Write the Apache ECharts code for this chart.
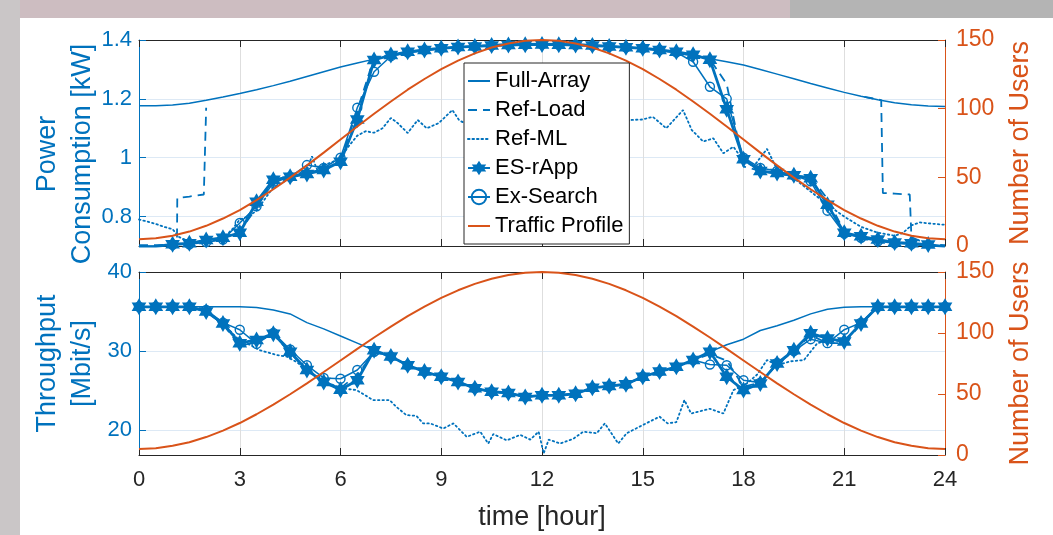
<!DOCTYPE html>
<html><head><meta charset="utf-8">
<script src="https://cdn.jsdelivr.net/npm/echarts@6/dist/echarts.min.js"></script>
<style>html,body{margin:0;padding:0;background:#fff;}#c{width:1053px;height:535px;}</style>
</head><body><div id="c"></div>
<script>
// ---------------- data ----------------
const hours = [0,0.5,1,1.5,2,2.5,3,3.5,4,4.5,5,5.5,6,6.5,7,7.5,8,8.5,9,9.5,10,10.5,11,11.5,12,12.5,13,13.5,14,14.5,15,15.5,16,16.5,17,17.5,18,18.5,19,19.5,20,20.5,21,21.5,22,22.5,23,23.5,24];
const xTicks = [0,3,6,9,12,15,18,21,24];
const powerTicks = [0.8,1,1.2,1.4];
const tputTicks = [20,30,40];
const userTicks = [0,50,100,150];
const legendNames = ['Full-Array','Ref-Load','Ref-ML','ES-rApp','Ex-Search','Traffic Profile'];

const trafficUsers = [5.0,5.6,7.5,10.5,14.7,20.0,26.2,33.4,41.3,49.8,58.7,68.0,77.5,87.0,96.3,105.2,113.8,121.6,128.8,135.0,140.3,144.5,147.5,149.4,150,149.4,147.5,144.5,140.3,135.0,128.8,121.6,113.8,105.2,96.3,87.0,77.5,68.0,58.7,49.8,41.3,33.4,26.2,20.0,14.7,10.5,7.5,5.6,5.0];

// power consumption [kW]
const fullArrayPower = [1.177,1.177,1.179,1.185,1.195,1.206,1.218,1.231,1.245,1.26,1.276,1.292,1.308,1.322,1.335,1.346,1.356,1.364,1.371,1.376,1.38,1.384,1.386,1.387,1.388,1.387,1.386,1.384,1.38,1.376,1.371,1.364,1.356,1.346,1.336,1.326,1.315,1.3,1.284,1.268,1.252,1.237,1.222,1.209,1.197,1.187,1.18,1.176,1.174];
const esPower = [0.698,0.698,0.706,0.709,0.72,0.728,0.745,0.85,0.925,0.935,0.945,0.958,0.986,1.13,1.332,1.349,1.36,1.366,1.372,1.376,1.378,1.381,1.383,1.384,1.385,1.384,1.383,1.381,1.378,1.375,1.372,1.366,1.36,1.35,1.333,1.165,0.995,0.955,0.948,0.94,0.93,0.84,0.745,0.733,0.722,0.712,0.709,0.705,0.698];
const exSearchPower = [0.699,0.699,0.704,0.706,0.713,0.722,0.778,0.835,0.915,0.935,0.975,0.965,1.0,1.17,1.292,1.345,1.358,1.366,1.372,1.376,1.378,1.381,1.383,1.384,1.385,1.384,1.383,1.381,1.378,1.375,1.372,1.366,1.358,1.326,1.241,1.2,1.0,0.965,0.955,0.94,0.92,0.82,0.742,0.728,0.716,0.709,0.706,0.699,0.699];
const refLoadPower = [[0,0.703],[0.5,0.703],[1.13,0.705],[1.14,0.863],[1.5,0.868],[1.93,0.875],[2.0,1.17],[2.25,null],
  [2.5,0.726],[3,0.75],[3.5,0.83],[4,0.93],[4.5,0.936],[5,0.95],[5.5,0.96],[6,0.99],[6.5,1.16],[7,1.34],[7.5,1.35],[8,1.36],[9,1.372],[10,1.378],[11,1.383],[12,1.385],[13,1.383],[14,1.378],[15,1.372],[16,1.36],[16.5,1.35],[17,1.335],[17.5,1.25],[18,0.97],[18.5,0.955],[19,0.945],[19.5,0.938],[20,0.935],[20.5,0.86],[21,0.75],[21.5,0.735],[21.55,null],
  [21.6,1.207],[22.1,1.196],[22.15,0.88],[22.5,0.878],[22.95,0.875],[23.0,0.73],[23.5,0.705],[24,0.703]];
const refMLPower = [[0,0.79],[0.25,0.783],[0.5,0.775],[0.75,0.765],[1,0.757],[1.2,0.73],[1.5,0.715],[2,0.712],[2.5,0.725],[2.8,0.76],[3.0,0.79],[3.25,0.8],[3.5,0.82],[3.75,0.86],[4,0.9],[4.25,0.915],[4.5,0.93],[4.75,0.945],[5,0.96],[5.15,1.005],[5.3,0.96],[5.5,0.975],[5.75,0.985],[6,1.0],[6.25,1.04],[6.5,1.075],[6.75,1.09],[7.0,1.085],[7.25,1.1],[7.5,1.135],[7.7,1.118],[8.0,1.084],[8.3,1.128],[8.57,1.1],[8.93,1.118],[9.33,1.162],[9.53,1.128],[9.8,1.11],[10.2,1.12],[10.6,1.1],[11,1.12],[11.5,1.1],[12,1.115],[12.5,1.1],[13,1.12],[13.5,1.105],[14,1.12],[14.3,1.11],[14.62,1.128],[15.0,1.13],[15.3,1.139],[15.7,1.1],[16.2,1.162],[16.46,1.094],[16.8,1.055],[17.1,1.066],[17.4,1.015],[17.7,1.037],[18.0,0.99],[18.3,0.97],[18.7,1.03],[19.0,0.96],[19.5,0.93],[20,0.885],[20.5,0.84],[21,0.8],[21.5,0.765],[22,0.745],[22.5,0.735],[22.75,0.745],[23,0.77],[23.25,0.78],[23.6,0.776],[24,0.772]];

// throughput [Mbit/s]
const fullArrayTput = [35.6,35.6,35.6,35.6,35.6,35.6,35.6,35.5,35.2,34.7,33.6,32.8,31.9,31.0,30.1,29.3,28.2,27.4,26.75,26.1,25.3,24.85,24.7,24.2,24.4,24.4,24.6,25.35,25.57,25.8,26.75,27.4,28.0,28.86,29.9,30.8,31.5,32.6,33.2,33.9,34.7,35.3,35.55,35.6,35.6,35.6,35.6,35.6,35.6];
const esTput = [35.6,35.6,35.6,35.6,35.0,33.5,31.0,31.4,32.2,29.9,27.6,26.1,25.1,26.3,30.1,29.3,28.2,27.4,26.75,26.1,25.3,24.85,24.7,24.2,24.4,24.4,24.6,25.35,25.57,25.8,26.75,27.4,28.0,28.86,29.9,26.75,25.06,25.9,28.44,30.1,32.24,31.6,31.2,33.5,35.6,35.6,35.6,35.6,35.6];
const exSearchTput = [35.6,35.6,35.6,35.6,35.2,33.6,32.7,30.9,32.3,30.2,28.2,26.6,26.5,27.6,29.9,29.3,28.2,27.4,26.75,26.1,25.3,24.85,24.7,24.2,24.4,24.4,24.6,25.35,25.57,25.8,26.75,27.4,28.0,28.86,28.3,28.2,26.3,26.0,28.5,30.0,31.5,31.0,32.7,33.6,35.6,35.6,35.6,35.6,35.6];
const refLoadTput = [35.6,35.6,35.6,35.6,35.0,33.4,30.6,31.2,32.1,29.8,27.5,26.2,25.3,27.0,29.8,29.3,28.2,27.4,26.75,26.1,25.3,24.85,24.7,24.2,24.4,24.4,24.6,25.35,25.57,25.8,26.75,27.4,28.0,28.86,29.6,28.8,25.5,26.0,28.3,30.0,32.0,31.0,31.0,33.4,35.6,35.6,35.6,35.6,35.6];
const refMLTput = [[0,35.6],[1,35.6],[1.5,35.6],[2,35.0],[2.5,33.5],[3,31.3],[3.3,30.8],[3.6,30.1],[4.1,29.5],[4.4,29.3],[4.7,28.6],[5,27.6],[5.5,26.2],[6,25.3],[6.48,25.06],[6.97,23.8],[7.46,23.8],[7.66,22.95],[7.96,21.9],[8.26,21.8],[8.46,20.85],[8.67,20.85],[9.06,20.2],[9.36,20.85],[9.76,19.15],[10.16,19.8],[10.4,18.3],[10.55,19.5],[10.95,18.7],[11.35,19.4],[11.65,18.8],[11.9,19.8],[12.05,17.05],[12.2,18.8],[12.54,18.3],[12.93,18.9],[13.23,19.8],[13.63,19.6],[13.87,20.85],[14.27,18.3],[14.52,19.6],[15.1,20.85],[15.5,21.7],[15.74,20.85],[16.0,21.0],[16.24,23.8],[16.44,22.1],[17.0,22.7],[17.4,22.1],[17.7,25.06],[18.1,25.9],[18.4,27.0],[18.7,28.86],[19.0,28.2],[19.4,28.7],[19.8,28.86],[20.2,31.0],[20.6,31.4],[21.0,31.2],[21.5,33.5],[22,35.6],[24,35.6]];

// ---------------- chart ----------------
const BLUE = '#0072BD', ORANGE = '#D95319', DARK = '#262626';
const FONT = '"Liberation Sans", Arial, Helvetica, sans-serif';
const STAR = 'path://M0,-10L2.887,-5L8.66,-5L5.774,0L8.66,5L2.887,5L0,10L-2.887,5L-8.66,5L-5.774,0L-8.66,-5L-2.887,-5Z';
const zip = (xs, ys) => xs.map((x, i) => [x, ys[i]]);

function panelSeries(p, fa, rl, ml, es, ex) {
  const xi = p * 2, yl = p * 2, yr = p * 2 + 1;
  const base = {type: 'line', xAxisIndex: xi, clip: true, animation: false, emphasis: {disabled: true}};
  return [
    Object.assign({}, base, {name: 'Full-Array', yAxisIndex: yl, data: fa, symbol: 'none', z: 2, color: BLUE, lineStyle: {width: 1.5, color: BLUE}}),
    Object.assign({}, base, {name: 'Ref-Load', yAxisIndex: yl, data: rl, symbol: 'none', z: 2, color: BLUE, connectNulls: false, lineStyle: {width: 1.8, color: BLUE, type: [9, 6]}}),
    Object.assign({}, base, {name: 'Ref-ML', yAxisIndex: yl, data: ml, symbol: 'none', z: 2, color: BLUE, lineStyle: {width: 1.8, color: BLUE, type: [1.5, 3], cap: 'round'}}),
    Object.assign({}, base, {name: 'ES-rApp', yAxisIndex: yl, data: es, symbol: STAR, symbolSize: 17, symbolKeepAspect: true, showSymbol: true, showAllSymbol: true, z: 4, color: BLUE, itemStyle: {color: BLUE, borderWidth: 0}, lineStyle: {width: 2.8, color: BLUE}}),
    Object.assign({}, base, {name: 'Ex-Search', yAxisIndex: yl, data: ex, symbol: 'circle', symbolSize: 9, showSymbol: true, showAllSymbol: true, z: 3, color: BLUE, itemStyle: {color: 'rgba(0,0,0,0)', borderColor: BLUE, borderWidth: 1.4}, lineStyle: {width: 1.5, color: BLUE}}),
    Object.assign({}, base, {name: 'Traffic Profile', yAxisIndex: yr, data: zip(hours, trafficUsers), symbol: 'none', z: 5, color: ORANGE, lineStyle: {width: 2, color: ORANGE}})
  ];
}

const series = [].concat(
  panelSeries(0, zip(hours, fullArrayPower), refLoadPower, refMLPower, zip(hours, esPower), zip(hours, exSearchPower)),
  panelSeries(1, zip(hours, fullArrayTput), zip(hours, refLoadTput), refMLTput, zip(hours, esTput), zip(hours, exSearchTput))
);

function xAxes(g, showLabels) {
  return [
    {type: 'value', gridIndex: g, position: 'bottom', min: 0, max: 24, interval: 3,
     axisLine: {show: true, onZero: false, lineStyle: {color: DARK, width: 1}},
     axisTick: {show: true, inside: true, length: 7, lineStyle: {color: DARK}},
     axisLabel: {show: showLabels, color: DARK, fontSize: 22, fontFamily: FONT, margin: 14},
     splitLine: {show: true, lineStyle: {color: '#dedede', width: 1}},
     name: showLabels ? 'time [hour]' : '', nameLocation: 'middle', nameGap: 49,
     nameTextStyle: {color: DARK, fontSize: 27, fontFamily: FONT}},
    {type: 'value', gridIndex: g, position: 'top', min: 0, max: 24, interval: 3,
     axisLine: {show: true, onZero: false, lineStyle: {color: DARK, width: 1}},
     axisTick: {show: true, inside: true, length: 7, lineStyle: {color: DARK}},
     axisLabel: {show: false}, splitLine: {show: false}}
  ];
}

function leftAxis(g, min, max, ticks, name, gap, pad) {
  return {type: 'value', gridIndex: g, position: 'left', min: min, max: max,
    axisLine: {show: true, onZero: false, lineStyle: {color: BLUE, width: 1}},
    axisTick: {show: true, inside: true, length: 7, lineStyle: {color: BLUE}, customValues: ticks},
    axisLabel: {color: BLUE, fontSize: 22, fontFamily: FONT, margin: 7, customValues: ticks},
    splitLine: {show: true, lineStyle: {color: '#dde9f5', width: 1}},
    name: name, nameLocation: 'middle', nameRotate: 90, nameGap: gap, nameMoveOverlap: false,
    nameTextStyle: {color: BLUE, fontSize: 27, fontFamily: FONT, lineHeight: 35, padding: pad}};
}
function rightAxis(g) {
  return {type: 'value', gridIndex: g, position: 'right', min: 0, max: 150, interval: 50,
    axisLine: {show: true, onZero: false, lineStyle: {color: ORANGE, width: 1}},
    axisTick: {show: true, inside: true, length: 7, lineStyle: {color: ORANGE}},
    axisLabel: {color: ORANGE, fontSize: 23, fontFamily: FONT, margin: 11},
    splitLine: {show: false},
    name: 'Number of Users', nameLocation: 'middle', nameRotate: 90, nameGap: 62, nameMoveOverlap: false,
    nameTextStyle: {color: ORANGE, fontSize: 27, fontFamily: FONT}};
}

const hideSymbol = {opacity: 0};
const option = {
  animation: false,
  backgroundColor: 'transparent',
  textStyle: {fontFamily: FONT},
  graphic: [
    {type: 'rect', silent: true, z: -10, shape: {x: 0, y: 0, width: 1053, height: 18}, style: {fill: '#cdbdc1'}},
    {type: 'rect', silent: true, z: -10, shape: {x: 790, y: 0, width: 263, height: 18}, style: {fill: '#b4b4b4'}},
    {type: 'rect', silent: true, z: -10, shape: {x: 0, y: 0, width: 20, height: 535}, style: {fill: '#cac6c7'}}
  ],
  grid: [
    {left: 139, top: 40, width: 806, height: 206, containLabel: false},
    {left: 139, top: 272, width: 806, height: 183, containLabel: false}
  ],
  xAxis: [].concat(xAxes(0, false), xAxes(1, true)),
  yAxis: [
    leftAxis(0, 0.7, 1.4, powerTicks, 'Power\nConsumption [kW]', 39, [0, 22, 0, 0]),
    rightAxis(0),
    leftAxis(1, 16.85, 40, tputTicks, 'Throughput\n[Mbit/s]', 39, 0),
    rightAxis(1)
  ],
  legend: {
    data: [
      {name: legendNames[0], itemStyle: hideSymbol},
      {name: legendNames[1], itemStyle: hideSymbol},
      {name: legendNames[2], itemStyle: hideSymbol},
      {name: legendNames[3]},
      {name: legendNames[4]},
      {name: legendNames[5], itemStyle: hideSymbol}
    ],
    orient: 'vertical', left: 464, top: 63,
    backgroundColor: '#fff', borderColor: DARK, borderWidth: 1, borderRadius: 0,
    padding: [7, 6, 7, 3], itemWidth: 22, itemHeight: 18, itemGap: 7, z: 10,
    selectedMode: false,
    textStyle: {color: '#000', fontSize: 22, fontFamily: FONT, lineHeight: 22}
  },
  series: series
};

const chart = echarts.init(document.getElementById('c'), null, {renderer: 'canvas'});
chart.setOption(option);
</script></body></html>
